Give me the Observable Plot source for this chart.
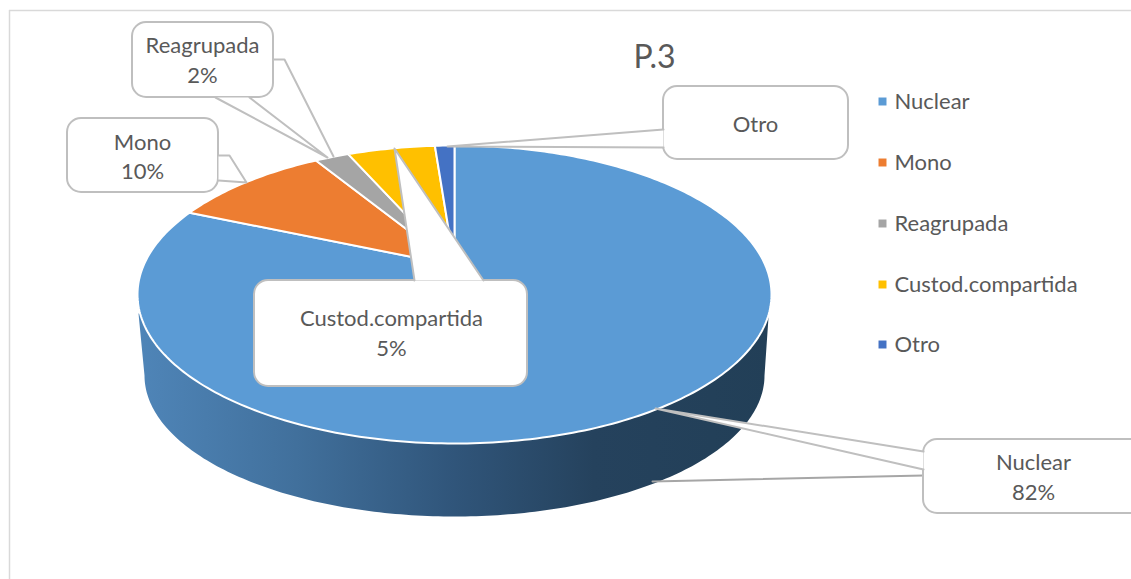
<!DOCTYPE html>
<html>
<head>
<meta charset="utf-8">
<script src="https://cdn.jsdelivr.net/npm/d3@7"></script>
<script src="https://cdn.jsdelivr.net/npm/@observablehq/plot@0.6"></script>
<style>html,body{margin:0;padding:0;background:#fff}svg{display:block}</style>
</head>
<body>
<div id="chart"></div>
<script>
// ---- data ----
const names = ["Nuclear", "Mono", "Reagrupada", "Custod.compartida", "Otro"];
const values = [81.5, 9.8, 2.1, 5.4, 1.2];
const shown = ["82%", "10%", "2%", "5%", ""];
const colors = ["#5b9bd5", "#ed7d31", "#a5a5a5", "#ffc000", "#4472c4"];
const titleText = "P.3";

// ---- layout (pixel space of the identity x/y scales) ----
const W = 1131, H = 579;
const disc = {cx: 454, cy: 294, rx: 317, ry: 149, apexY: 265};
const base = {cx: 454, cy: 375, rx: 310, ry: 141};
const a = (disc.apexY - disc.cy) / disc.ry;
const k = Math.sqrt(1 - a * a);

// perspective projection of a point of the pie's unit disc on the screen
function project(u, v) {
  const d = 1 + a * v;
  return {x: disc.cx + disc.rx * u * k / d, y: disc.cy + disc.ry * (v + a) / d};
}
const total = d3.sum(values);
let acc = 0;
const sliceRows = [];
names.forEach((name, i) => {
  const t0 = acc / total * 2 * Math.PI;
  acc += values[i];
  const t1 = acc / total * 2 * Math.PI;
  sliceRows.push({name, ...project(0, 0)});
  const n = Math.max(4, Math.ceil((t1 - t0) * 60));
  d3.range(n + 1).forEach(j => {
    const t = t0 + (t1 - t0) * j / n;
    sliceRows.push({name, ...project(Math.sin(t), -Math.cos(t))});
  });
  sliceRows.push({name, ...project(0, 0)});
});

const wall = [];
d3.range(0, 181).forEach(deg => {
  const p = (180 - deg) * Math.PI / 180;
  wall.push({x: base.cx + base.rx * Math.cos(p), y: base.cy + base.ry * Math.sin(p)});
});
wall.push({x: 768, y: 317}, {x: 138, y: 313});

// callouts: box, pointer outlines, label
const boxes = [
  {key: "Reagrupada", x1: 132, x2: 273, y1: 22, y2: 97},
  {key: "Mono", x1: 67, x2: 218, y1: 118, y2: 192},
  {key: "Otro", x1: 663, x2: 848, y1: 86, y2: 159},
  {key: "Nuclear", x1: 923, x2: 1160, y1: 439, y2: 513},
  {key: "Custod.compartida", x1: 254, x2: 527, y1: 280, y2: 386}
];
const pointers = [
  {id: "r1", pts: [[215, 97], [327, 157], [249, 97]]},
  {id: "r2", pts: [[273, 59], [284, 59], [333, 156]]},
  {id: "m", pts: [[218, 155], [229, 155], [246, 182], [218, 180]]},
  {id: "o", pts: [[663, 129], [447, 146], [663, 147]]},
  {id: "n", pts: [[923, 451], [655, 408], [923, 469]]},
  {id: "c", pts: [[414, 280], [394, 148], [483, 280]]}
];
const pointerRows = pointers.flatMap(p => p.pts.map(([x, y]) => ({id: p.id, x, y})));
const labelPos = {
  "Reagrupada": [202, 60], "Mono": [142, 156.5], "Otro": [755, 124],
  "Nuclear": [1033, 477], "Custod.compartida": [391, 333]
};
const labelRows = names.map((n, i) => ({
  text: shown[i] ? n + "\n" + shown[i] : n, x: labelPos[n][0], y: labelPos[n][1]
}));
const legendY = [101, 162, 223, 284, 344];
const legendRows = names.map((name, i) => ({name, y: legendY[i]}));

const GRAY = "#bfbfbf", TEXT = "#595959", FONT = "Lato, Carlito, sans-serif";

const defs = () => {
  const s = d3.create("svg:defs");
  const g = s.append("linearGradient").attr("id", "wallGrad")
    .attr("gradientUnits", "userSpaceOnUse")
    .attr("x1", 137).attr("x2", 771).attr("y1", 0).attr("y2", 0);
  [[0, "#4f85b8"], [0.25, "#41709c"], [0.5, "#30557a"], [0.72, "#25425d"], [1, "#223f57"]]
    .forEach(([o, c]) => g.append("stop").attr("offset", o).attr("stop-color", c));
  return s.node();
};

const chart = Plot.plot({
  width: W, height: H, margin: 0,
  x: {domain: [0, W], range: [0, W], axis: null},
  y: {domain: [0, H], range: [0, H], axis: null},
  color: {domain: names, range: colors},
  style: {background: "#fff", fontFamily: FONT},
  marks: [
    defs,
    Plot.ruleY([10], {x1: 9, x2: W, stroke: "#d9d9d9", strokeWidth: 1.5, strokeOpacity: 1}),
    Plot.ruleX([9], {y1: 10, y2: H, stroke: "#d9d9d9", strokeWidth: 1.5, strokeOpacity: 1}),
    Plot.line(wall, {x: "x", y: "y", fill: "url(#wallGrad)", stroke: "none", curve: "linear"}),
    Plot.line(sliceRows, {x: "x", y: "y", z: "name", fill: "name", stroke: "#fff", strokeWidth: 2, curve: "linear", strokeLinejoin: "round"}),
    Plot.line([{x: 923, y: 475}, {x: 652, y: 481}], {x: "x", y: "y", stroke: "#a6a6a6", strokeWidth: 2}),
    Plot.rect(boxes, {x1: "x1", x2: "x2", y1: "y1", y2: "y2", rx: 14, fill: "#fff", stroke: GRAY, strokeWidth: 2}),
    Plot.line(pointerRows, {x: "x", y: "y", z: "id", fill: "#fff", stroke: GRAY, strokeWidth: 2, curve: "linear", strokeLinejoin: "round"}),
    Plot.text(labelRows, {x: "x", y: "y", dy: -2, text: "text", fill: TEXT, fontSize: 22, lineHeight: 1.34, textAnchor: "middle"}),
    Plot.text([titleText], {x: 654, y: 57, text: d => d, fill: TEXT, fontSize: 32, textAnchor: "middle"}),
    Plot.dot(legendRows, {x: 882, y: "y", fill: "name", symbol: "square", r: 4.5, stroke: "none"}),
    Plot.text(legendRows, {x: 894, y: "y", text: "name", fill: TEXT, fontSize: 22, textAnchor: "start"})
  ]
});
document.getElementById("chart").append(chart);
</script>
</body>
</html>
